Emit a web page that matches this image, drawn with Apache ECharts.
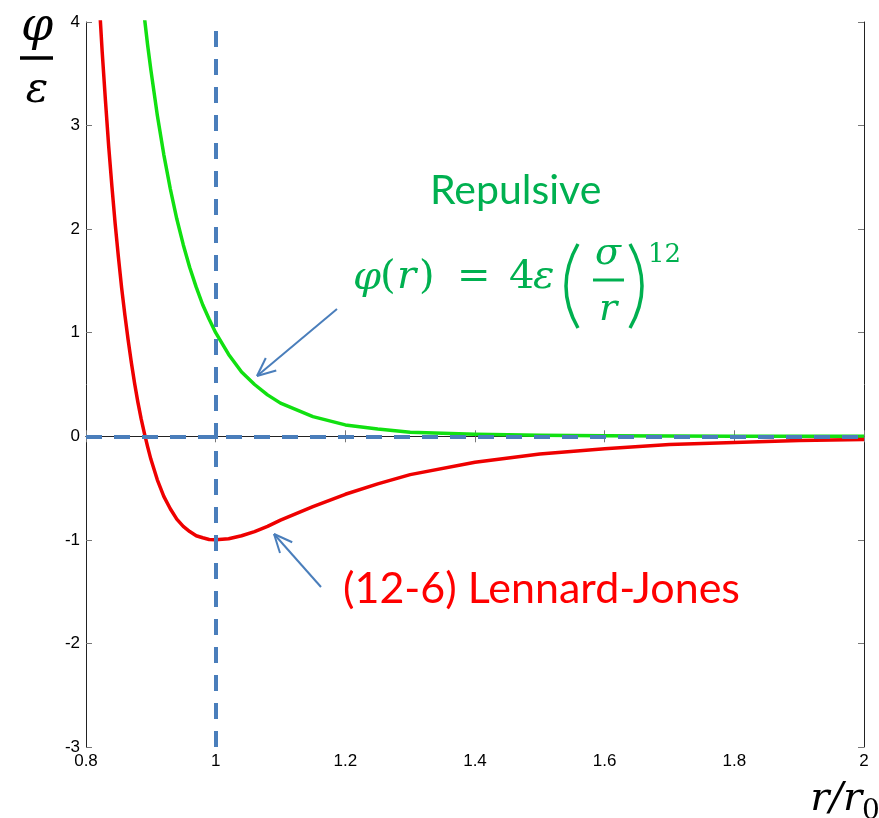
<!DOCTYPE html>
<html>
<head>
<meta charset="utf-8">
<script src="https://cdn.jsdelivr.net/npm/echarts@6/dist/echarts.min.js"></script>
<style>
  html, body { margin: 0; padding: 0; background: #fff; }
  #chart { width: 879px; height: 818px; }
</style>
</head>
<body>
<div id="chart"></div>
<script>
// 数据
var ljR = [0.815, 0.82, 0.825, 0.83, 0.835, 0.84, 0.845, 0.85, 0.855, 0.86, 0.865, 0.87, 0.875, 0.88, 0.885, 0.89, 0.895, 0.90,
  0.91, 0.92, 0.93, 0.94, 0.95, 0.96, 0.97, 0.98, 0.99, 1.00, 1.02, 1.04, 1.06, 1.08, 1.10, 1.15, 1.20, 1.25, 1.30,
  1.40, 1.50, 1.60, 1.70, 1.80, 1.90, 2.00]
var ljValues = [4.98, 4.24, 3.71, 3.24, 2.80, 2.41, 2.05, 1.73, 1.43, 1.17, 0.93, 0.71, 0.51, 0.33, 0.17, 0.03, -0.10, -0.22,
  -0.42, -0.58, -0.70, -0.80, -0.87, -0.92, -0.96, -0.98, -0.996, -1.00, -0.99, -0.96, -0.92, -0.87, -0.81, -0.68, -0.56, -0.46, -0.37,
  -0.25, -0.17, -0.12, -0.08, -0.06, -0.04, -0.03]
var repR = [0.875, 0.88, 0.885, 0.89, 0.895, 0.90, 0.91, 0.92, 0.93, 0.94, 0.95, 0.96, 0.97, 0.98, 0.99, 1.00, 1.02, 1.04,
  1.06, 1.08, 1.10, 1.15, 1.20, 1.25, 1.30, 1.40, 1.50, 1.60, 1.70, 1.80, 1.90, 2.00]
var repValues = [4.97, 4.64, 4.33, 4.05, 3.78, 3.54, 3.10, 2.72, 2.39, 2.10, 1.85, 1.63, 1.44, 1.27, 1.13, 1.00, 0.79, 0.62,
  0.50, 0.40, 0.32, 0.19, 0.11, 0.07, 0.04, 0.02, 0.01, 0.004, 0.002, 0.001, 0.0005, 0.0002]
var xTicks = { min: 0.8, max: 2, interval: 0.2 }
var yTicks = { min: -3, max: 4, interval: 1 }
var refX = 1
var refY = 0

var chart = echarts.init(document.getElementById('chart'))

function pairs (xs, ys) {
  return xs.map(function (x, i) { return [x, ys[i]] })
}

var green = '#00b050'
var blue = '#4a7ebb'
var mathFont = 'DejaVu Serif'

function txt (x, y, s, size, color, opts) {
  opts = opts || {}
  return {
    type: 'text',
    z: 100,
    style: {
      x: x, y: y, text: s,
      font: (opts.italic ? 'italic ' : '') + size + 'px ' + (opts.family || mathFont),
      fill: color,
      align: opts.align || 'left',
      verticalAlign: 'middle'
    }
  }
}

function seg (x1, y1, x2, y2, color, w) {
  return { type: 'line', z: 100, shape: { x1: x1, y1: y1, x2: x2, y2: y2 }, style: { stroke: color, lineWidth: w } }
}

function arrow (tx, ty, hx, hy) {
  var ang = Math.atan2(ty - hy, tx - hx)
  var len = 20, spread = 0.42
  return [
    seg(tx, ty, hx, hy, blue, 2),
    seg(hx, hy, hx + len * Math.cos(ang + spread), hy + len * Math.sin(ang + spread), blue, 2),
    seg(hx, hy, hx + len * Math.cos(ang - spread), hy + len * Math.sin(ang - spread), blue, 2)
  ]
}

var tickStyle = { show: true, inside: true, length: 6, lineStyle: { color: '#777' } }
var lineStyleAxis = { show: true, lineStyle: { color: '#222', width: 1 } }
var labelStyle = { color: '#000', fontSize: 17, fontFamily: 'Liberation Sans', margin: 6, showMinLabel: true, showMaxLabel: true }

var graphics = [
  // y axis label
  txt(37, 28, 'φ', 46, '#000', { italic: true, align: 'center' }),
  seg(20, 58, 53, 58, '#000', 3.5),
  txt(37, 91, 'ε', 42, '#000', { italic: true, align: 'center' }),
  // x axis label
  txt(862, 800, 'r/r', 40, '#000', { italic: true, align: 'right' }),
  txt(862, 812, '0', 28, '#000'),
  // annotations
  txt(430, 191, 'Repulsive', 41, green, { family: 'Lato' }),
  txt(343, 589, '(12-6) Lennard-Jones', 43, '#ff0000', { family: 'Lato' }),
  // formula
  txt(353, 279, 'φ', 40, green, { italic: true }),
  txt(380, 278, '(', 40, green),
  txt(397, 278, 'r', 40, green, { italic: true }),
  txt(419, 278, ')', 40, green),
  txt(457, 278, '=', 40, green),
  txt(509, 278, '4', 40, green),
  txt(533, 278, 'ε', 40, green, { italic: true }),
  { type: 'bezierCurve', z: 100, shape: { x1: 578, y1: 244, x2: 578, y2: 328, cpx1: 554, cpy1: 286 }, style: { stroke: green, lineWidth: 3.5, fill: null } },
  { type: 'bezierCurve', z: 100, shape: { x1: 630, y1: 244, x2: 630, y2: 328, cpx1: 654, cpy1: 286 }, style: { stroke: green, lineWidth: 3.5, fill: null } },
  txt(608, 254, 'σ', 38, green, { italic: true, align: 'center' }),
  seg(593, 280, 624, 280, green, 3),
  txt(608, 310, 'r', 38, green, { italic: true, align: 'center' }),
  txt(648, 255, '12', 26, green)
].concat(arrow(337, 309, 257, 376)).concat(arrow(321, 587, 274, 534))

var option = {
  animation: false,
  grid: { left: 86, right: 15, top: 22, bottom: 71 },
  xAxis: [{
    type: 'value', min: xTicks.min, max: xTicks.max, interval: xTicks.interval,
    axisLine: lineStyleAxis, axisTick: tickStyle, axisLabel: labelStyle, splitLine: { show: false }
  }, {
    type: 'value', position: 'top', min: xTicks.min, max: xTicks.max, interval: xTicks.interval,
    axisLine: lineStyleAxis, axisTick: tickStyle, axisLabel: { show: false }, splitLine: { show: false }
  }],
  yAxis: [{
    type: 'value', min: yTicks.min, max: yTicks.max, interval: yTicks.interval,
    axisLine: lineStyleAxis, axisTick: tickStyle, axisLabel: labelStyle, splitLine: { show: false }
  }, {
    type: 'value', position: 'right', min: yTicks.min, max: yTicks.max, interval: yTicks.interval,
    axisLine: lineStyleAxis, axisTick: tickStyle, axisLabel: { show: false }, splitLine: { show: false }
  }],
  series: [{
    type: 'line',
    data: pairs(repR, repValues),
    showSymbol: false,
    smooth: false,
    lineStyle: { color: '#11e011', width: 3.5, join: 'round' },
    clip: true
  }, {
    type: 'line',
    data: pairs(ljR, ljValues),
    showSymbol: false,
    smooth: false,
    lineStyle: { color: '#ee0000', width: 3.5, join: 'round' },
    clip: true,
    markLine: {
      silent: true,
      symbol: 'none',
      label: { show: false },
      lineStyle: { color: blue, width: 4, type: [16, 12] },
      data: [{ xAxis: refX }, { yAxis: refY }]
    }
  }],
  graphic: graphics
}

chart.setOption(option)
</script>
</body>
</html>
